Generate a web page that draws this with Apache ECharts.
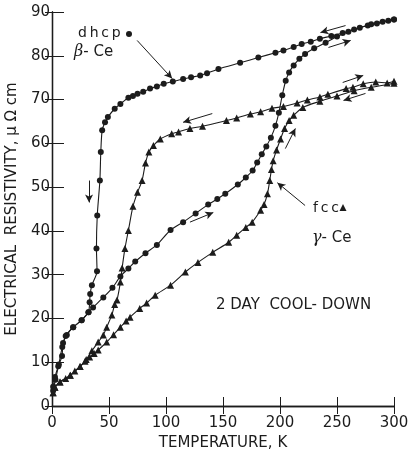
<!DOCTYPE html>
<html>
<head>
<meta charset="utf-8">
<script src="https://cdn.jsdelivr.net/npm/echarts@6/dist/echarts.min.js"></script>
<style>
html,body{margin:0;padding:0;background:#fff;}
#c{width:409px;height:453px;}
</style>
</head>
<body>
<div id="c"></div>
<script>
// Temperature (K), resistivity (μΩ cm)
var xTicks = [0, 50, 100, 150, 200, 250, 300];
var yTicks = [0, 10, 20, 30, 40, 50, 60, 70, 80, 90];

// dhcp β-Ce, cooling from 300 K
var dhcpCool = [[300,88.3],[295,88],[285,87.4],[277,86.9],[265,86],[255,85.2],[245,84.5],[235,83.9],[227,83.2],[219,82.7],[212,82],[203,81.2],[196,80.7],[181,79.6],[165,78.4],[146,77],[136,76],[130,75.5],[122,75.1],[115,74.7],[106,74.1],[98,73.6],[92,73],[86,72.5],[80,71.8],[75,71.3],[71,70.8],[67,70.4],[60,69],[55,67.9],[49,66],[46.5,64.8],[44,63],[42.8,58],[42,51.5],[39.7,43.5],[39,36],[39.5,30.8],[35,27.6],[33.5,25.6],[33,23.7],[32,21.4],[26,19.6],[18.6,18],[13,16.2],[9.7,14.4],[8.8,11.4],[5.5,9.1],[2.6,6.6],[1,4.4]];

// dhcp β-Ce, warming from 4 K
var dhcpWarm = [[1,3.5],[3,6],[6,9.5],[9,13.5],[12,16],[18.6,18],[26,19.6],[32,21.4],[36,22.5],[45,24.8],[53,27],[60,29.6],[67,31.4],[73,33],[82,34.9],[92,36.8],[104,40.2],[115,42],[126,44],[137,46],[145,47.3],[152,48.5],[163,50.6],[170,52.2],[176,53.8],[180,55.6],[184,57.5],[188,59.3],[192,61.3],[196,64],[199,67],[202,71],[205,74.3],[208,76.2],[212,77.8],[217,79.3],[222,80.4],[230,81.7],[240,83],[250,84.4],[260,85.5],[270,86.4],[280,87.2],[290,87.8],[300,88.3]];

// fcc γ-Ce, cooling from 300 K
var fccCool = [[300,74.2],[294,73.8],[284,74],[273,73.6],[264,72.8],[258,72.5],[242,71.2],[235,70.6],[224,69.9],[215,69.2],[203,68.4],[193,68],[183,67.2],[174,66.7],[162,65.8],[153,65.2],[132,63.9],[121,63.4],[111,62.6],[105,62.2],[95,61],[89,59.5],[85,58],[82,55.5],[79,51.5],[75,48.8],[71,45.6],[67,40.1],[64,36],[61.5,31.5],[60,28.3],[57,24.2],[55,23.2],[52.5,20.8],[48,18],[45,16.2],[40.5,14.6],[35,12.6],[30,10.6],[24.6,9],[16,7],[7,5.5],[2.6,4.3],[1,3]];

// fcc γ-Ce, warming from 4 K
var fccWarm = [[1,3],[2.6,4.3],[7,5.5],[12,6.3],[16,7],[20,8],[24.6,9],[29,10.2],[33,11.2],[37,12],[40.5,12.8],[48,14.6],[54,16.3],[60,18],[65,19.4],[68.5,20.3],[77,22.3],[83,23.5],[90.5,25.3],[104,27.6],[117,30.6],[128,32.8],[141,35.1],[155,37.4],[162,39],[170,40.8],[175.6,42],[183,44.7],[186,46],[189,48.5],[191,51.5],[192.5,54],[194,56],[197,58.5],[200.5,61],[204,63.4],[208,65.2],[212,66.4],[220,68.2],[235,69.6],[250,70.8],[265,72],[280,72.8],[300,73.7]];

// direction arrows [from, to] in data coordinates
var arrowsStraight = [
  [[32.5,51.5],[32.5,46.5]],
  [[140.6,66.8],[115,64.8]],
  [[121,42],[141.5,44.2]],
  [[204.7,58.8],[213.5,63.4]],
  [[257.5,86.9],[235.5,85.3]],
  [[242.5,81.9],[262,83.5]],
  [[255,73.9],[273,75.5]],
  [[275,71.4],[255.7,69.8]]
];
var arrowDhcp = [[74.7,83.5],[105.4,74.8]];
var arrowFcc = [[222,45.8],[197.7,51]];

var INK = '#1c1c1c';
var FONT = 'DejaVu Sans';

var chart = echarts.init(document.getElementById('c'), null, {renderer:'canvas'});

function lineSeries(name, data, symbol, size){
  return {
    name: name, type:'line', data:data, smooth:0.25,
    symbol:symbol, symbolSize:size, showSymbol:true,
    lineStyle:{color:INK, width:1.1},
    itemStyle:{color:INK, borderColor:INK, borderWidth:0},
    animation:false, z:3
  };
}

var straightLines = arrowsStraight.map(function(a){
  return [{coord:a[0]},{coord:a[1]}];
});

var option = {
  backgroundColor:'#fff',
  animation:false,
  grid:{left:52, right:15, top:12, bottom:47, containLabel:false, outerBoundsMode:'none'},
  xAxis:[{
    type:'value', min:xTicks[0], max:xTicks[xTicks.length-1], interval:50,
    axisLine:{show:true, lineStyle:{color:INK, width:1.3}},
    axisTick:{show:true, inside:true, length:9, lineStyle:{color:INK}},
    axisLabel:{show:true, color:INK, fontSize:15, fontFamily:FONT, margin:10},
    splitLine:{show:false},
    name:'TEMPERATURE, K', nameLocation:'middle', nameGap:29,
    nameTextStyle:{color:INK, fontSize:15, fontFamily:FONT}
  },{
    type:'value', position:'top', min:0, max:300, interval:50,
    axisLine:{show:true, lineStyle:{color:INK, width:1.3}},
    axisTick:{show:true, inside:true, length:8, lineStyle:{color:INK}},
    axisLabel:{show:false}, splitLine:{show:false}
  }],
  yAxis:[{
    type:'value', min:yTicks[0], max:yTicks[yTicks.length-1], interval:10,
    axisLine:{show:true, lineStyle:{color:INK, width:1.3}},
    axisTick:{show:true, inside:true, length:12, lineStyle:{color:INK}},
    axisLabel:{show:true, color:INK, fontSize:15, fontFamily:FONT, margin:2},
    splitLine:{show:false},
    name:'ELECTRICAL  RESISTIVITY, \u03bc \u03a9 cm', nameLocation:'middle', nameGap:31,
    nameTextStyle:{color:INK, fontSize:15, fontFamily:FONT}
  },{
    type:'value', position:'right', min:0, max:90, interval:10,
    axisLine:{show:true, lineStyle:{color:INK, width:1.3}},
    axisTick:{show:true, inside:true, length:7, lineStyle:{color:INK}},
    axisLabel:{show:false}, splitLine:{show:false}
  }],
  series:[
    lineSeries('dhcp cool', dhcpCool, 'circle', 6),
    lineSeries('dhcp warm', dhcpWarm, 'circle', 6),
    lineSeries('fcc cool', fccCool, 'triangle', 7),
    lineSeries('fcc warm', fccWarm, 'triangle', 7),
    {
      type:'line', data:[], silent:true,
      markLine:{
        silent:true, symbol:['none','arrow'], symbolSize:[6,8],
        label:{show:false},
        lineStyle:{color:INK, width:1, type:'solid'},
        data: straightLines
      }
    },
    {
      type:'line', data:[], silent:true,
      markLine:{
        silent:true, symbol:['none','arrow'], symbolSize:[6,8],
        label:{show:false},
        lineStyle:{color:INK, width:1, type:'solid', curveness:0.3},
        data:[[{coord:arrowDhcp[0]},{coord:arrowDhcp[1]}]]
      }
    },
    {
      type:'line', data:[], silent:true,
      markLine:{
        silent:true, symbol:['none','arrow'], symbolSize:[6,8],
        label:{show:false},
        lineStyle:{color:INK, width:1, type:'solid', curveness:-0.3},
        data:[[{coord:arrowFcc[0]},{coord:arrowFcc[1]}]]
      }
    }
  ],
  graphic:[
    {type:'text', left:78, top:26, style:{text:'d\u2009h\u2009c\u2009p', fill:INK, font:'14px "DejaVu Sans"'}},
    {type:'circle', shape:{cx:129, cy:34, r:3}, style:{fill:INK}},
    {type:'text', left:74, top:44, style:{text:'{g|\u03b2}{n|- Ce}', rich:{g:{font:'italic 16px "DejaVu Serif"', fill:INK}, n:{font:'15px "DejaVu Sans"', fill:INK}}}},
    {type:'text', left:313, top:201, style:{text:'f\u2009c\u2009c', fill:INK, font:'14px "DejaVu Sans"'}},
    {type:'polygon', shape:{points:[[343,204],[339.5,211],[346.5,211]]}, style:{fill:INK}},
    {type:'text', left:312, top:230, style:{text:'{g|\u03b3}{n|- Ce}', rich:{g:{font:'italic 16px "DejaVu Serif"', fill:INK}, n:{font:'15px "DejaVu Sans"', fill:INK}}}},
    {type:'text', left:216, top:298, style:{text:'2 DAY  COOL- DOWN', fill:INK, font:'15px "DejaVu Sans"'}}
  ]
};
chart.setOption(option);
</script>
</body>
</html>
